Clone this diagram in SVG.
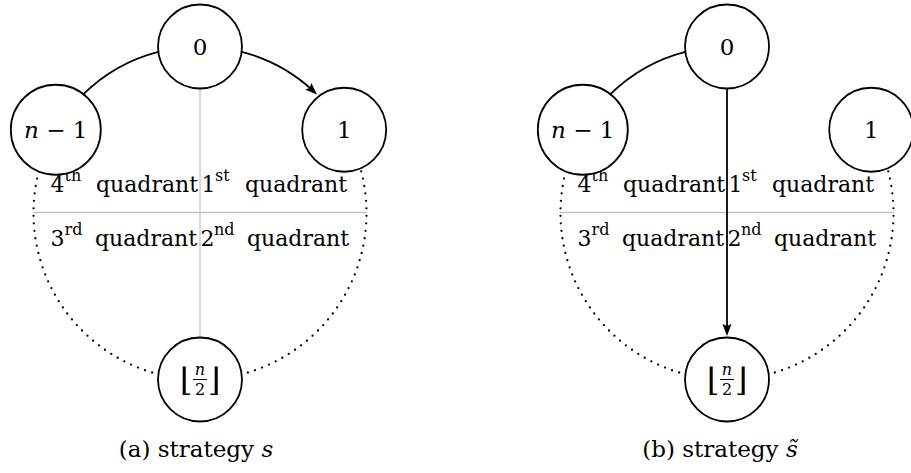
<svg xmlns="http://www.w3.org/2000/svg" width="911" height="473" viewBox="0 0 911 473">
<style>
  .node circle { fill: #fff; stroke: #000; stroke-width: 1.8; }
  .lbl { font-family: "DejaVu Serif", serif; font-size: 22px; fill: #000; }
  .nl { font-family: "DejaVu Serif", serif; font-size: 23px; fill: #000; text-anchor: middle; }
  .cap { font-family: "DejaVu Serif", serif; font-size: 23px; fill: #000; text-anchor: middle; }
  .sup { font-family: "DejaVu Serif", serif; font-size: 16px; fill: #000; }
  .it { font-style: italic; }
  .frac { font-family: "DejaVu Serif", serif; font-size: 16px; fill: #000; text-anchor: middle; }
  .flr { font-family: "DejaVu Serif", serif; font-size: 32px; fill: #000; text-anchor: middle; }
  .grid { stroke: #c4c4c4; stroke-width: 1.3; fill: none; }
  .edge { stroke: #000; stroke-width: 1.8; fill: none; }
  .dot { stroke: #000; stroke-width: 2.3; fill: none; stroke-dasharray: 0 7.5; stroke-linecap: round; }
</style>
<defs>
  <marker id="arr" markerUnits="userSpaceOnUse" markerWidth="13" markerHeight="10" viewBox="0 0 13 10" refX="6" refY="5" orient="auto">
    <path d="M0,0.5 L12,5 L0,9.5 L2,5 z" fill="#000"/>
  </marker>
</defs>

<!-- ========== (a) strategy s ========== -->
<g id="grid-a">
  <line class="grid" x1="200" y1="88.5" x2="200" y2="337.5"/>
  <line class="grid" x1="33" y1="212.5" x2="367" y2="212.5"/>
</g>
<g id="connectors-a">
  <path class="edge" d="M158.3,51.8 A166.5,166.5 0 0 0 83.3,94.2"/>
  <path class="edge" marker-end="url(#arr)" d="M241.7,51.8 A166.5,166.5 0 0 1 312.7,90.4"/>
  <path class="dot" d="M38.8,171.3 A166.5,166.5 0 0 0 158.3,374.2"/>
  <path class="dot" d="M361.2,171.3 A166.5,166.5 0 0 1 241.7,374.2"/>
</g>
<g id="quadrants-a">
  <text class="lbl" x="50.5" y="192">4</text><text class="sup" x="64.5" y="181">th</text>
  <text class="lbl" x="96" y="192">quadrant</text>
  <text class="lbl" x="201.5" y="192">1</text><text class="sup" x="215" y="181">st</text>
  <text class="lbl" x="245" y="192">quadrant</text>
  <text class="lbl" x="50.5" y="246">3</text><text class="sup" x="64.5" y="235">rd</text>
  <text class="lbl" x="95" y="246">quadrant</text>
  <text class="lbl" x="200.5" y="246">2</text><text class="sup" x="214" y="235">nd</text>
  <text class="lbl" x="247" y="246">quadrant</text>
</g>
<g id="a-node-0" class="node">
  <circle cx="200" cy="46.5" r="42"/>
  <text class="nl" x="200" y="55">0</text>
</g>
<g id="a-node-n1" class="node">
  <circle cx="55.8" cy="129.75" r="45"/>
  <text class="nl" x="55.8" y="138"><tspan class="it">n</tspan> − 1</text>
</g>
<g id="a-node-1" class="node">
  <circle cx="344.2" cy="129.75" r="42"/>
  <text class="nl" x="344.2" y="138">1</text>
</g>
<g id="a-node-half" class="node">
  <circle cx="200" cy="379.5" r="42"/>
  <text class="flr" x="186" y="391">⌊</text>
  <text class="flr" x="214" y="391">⌋</text>
  <text class="frac it" x="200" y="375">n</text>
  <line x1="193" y1="379.5" x2="207" y2="379.5" stroke="#000" stroke-width="1"/>
  <text class="frac" x="200" y="395">2</text>
</g>
<text id="caption-a" class="cap" x="196" y="457">(a) strategy <tspan class="it">s</tspan></text>

<!-- ========== (b) strategy s~ ========== -->
<g id="grid-b">
  <line class="grid" x1="560" y1="212.5" x2="894" y2="212.5"/>
</g>
<g id="connectors-b">
  <path class="edge" d="M685.3,51.8 A166.5,166.5 0 0 0 610.3,94.2"/>
  <path class="edge" marker-end="url(#arr)" d="M727,88.5 L727,330"/>
  <path class="dot" d="M565.8,171.3 A166.5,166.5 0 0 0 685.3,374.2"/>
  <path class="dot" d="M888.2,171.3 A166.5,166.5 0 0 1 768.7,374.2"/>
</g>
<g id="quadrants-b">
  <text class="lbl" x="577.5" y="192">4</text><text class="sup" x="591.5" y="181">th</text>
  <text class="lbl" x="623" y="192">quadrant</text>
  <text class="lbl" x="728.5" y="192">1</text><text class="sup" x="742" y="181">st</text>
  <text class="lbl" x="772" y="192">quadrant</text>
  <text class="lbl" x="577.5" y="246">3</text><text class="sup" x="591.5" y="235">rd</text>
  <text class="lbl" x="622" y="246">quadrant</text>
  <text class="lbl" x="727.5" y="246">2</text><text class="sup" x="741" y="235">nd</text>
  <text class="lbl" x="774" y="246">quadrant</text>
</g>
<g id="b-node-0" class="node">
  <circle cx="727" cy="46.5" r="42"/>
  <text class="nl" x="727" y="55">0</text>
</g>
<g id="b-node-n1" class="node">
  <circle cx="582.8" cy="129.75" r="45"/>
  <text class="nl" x="582.8" y="138"><tspan class="it">n</tspan> − 1</text>
</g>
<g id="b-node-1" class="node">
  <circle cx="871.2" cy="129.75" r="42"/>
  <text class="nl" x="871.2" y="138">1</text>
</g>
<g id="b-node-half" class="node">
  <circle cx="727" cy="379.5" r="42"/>
  <text class="flr" x="713" y="391">⌊</text>
  <text class="flr" x="741" y="391">⌋</text>
  <text class="frac it" x="727" y="375">n</text>
  <line x1="720" y1="379.5" x2="734" y2="379.5" stroke="#000" stroke-width="1"/>
  <text class="frac" x="727" y="395">2</text>
</g>
<text id="caption-b" class="cap" x="720" y="457">(b) strategy <tspan class="it">s̃</tspan></text>
</svg>
